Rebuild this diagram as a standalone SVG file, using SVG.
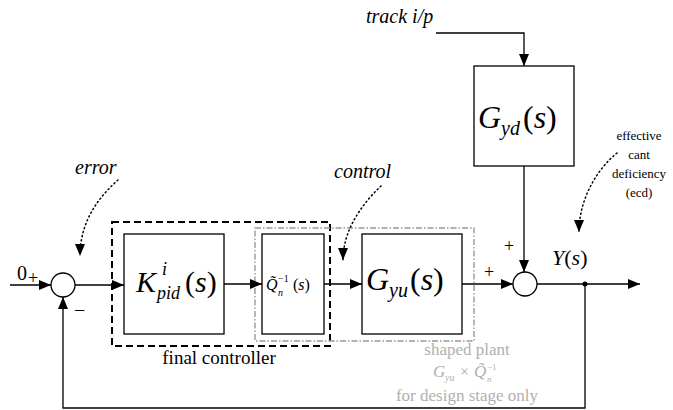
<svg xmlns="http://www.w3.org/2000/svg" width="673" height="410" viewBox="0 0 673 410" font-family="'Liberation Serif', 'DejaVu Serif', serif">
<defs>
<marker id="ah" markerWidth="12" markerHeight="10" refX="12" refY="5" orient="auto" markerUnits="userSpaceOnUse">
<path d="M0,0 L12,5 L0,10 Z" fill="#000"/>
</marker>
<style>
.it{font-style:italic}
.blk{fill:#fff;stroke:#000;stroke-width:1.3}
.wire{fill:none;stroke:#000;stroke-width:1.3}
.dot{fill:none;stroke:#000;stroke-width:1.5;stroke-dasharray:1.2,3;stroke-linecap:round}
.gray{fill:#b0b0b0}
</style>
</defs>
<rect width="673" height="410" fill="#fff"/>

<g id="final-controller-box">
<rect x="112" y="222" width="218" height="124" fill="none" stroke="#000" stroke-width="2" stroke-dasharray="7,4"/>
<text x="219" y="364" font-size="19" text-anchor="middle">final controller</text>
</g>
<g id="shaped-plant-box">
<rect x="255" y="228" width="219" height="113" fill="none" stroke="#999" stroke-width="1.4" stroke-dasharray="6,2,1.5,2"/>
<text class="gray" x="467" y="355" font-size="17" text-anchor="middle">shaped plant</text>
<text class="gray it" x="433" y="377" font-size="17">G</text>
<text class="gray it" x="445" y="381" font-size="10">yu</text>
<text class="gray" x="460" y="377" font-size="16">×</text>
<text class="gray it" x="474" y="377" font-size="17">Q̃</text>
<text class="gray" x="487" y="370" font-size="9">−1</text>
<text class="gray it" x="487" y="382" font-size="9">n</text>
<text class="gray" x="467" y="401" font-size="17" text-anchor="middle">for design stage only</text>
</g>

<g id="sum1">
<circle cx="63" cy="285" r="12" fill="#fff" stroke="#000" stroke-width="1.3"/>
<text x="17" y="280" font-size="20">0</text>
<text x="28" y="284" font-size="18">+</text>
<text x="74" y="317" font-size="20">−</text>
</g>

<g id="K">
<rect class="blk" x="124" y="234" width="100" height="100"/>
<text class="it" x="136" y="292" font-size="30">K</text>
<text class="it" x="162" y="275" font-size="18">i</text>
<text class="it" x="157" y="299" font-size="18">pid</text>
<text x="185" y="292" font-size="30">(<tspan font-style="italic">s</tspan>)</text>
</g>

<g id="Q">
<rect class="blk" x="262" y="234" width="62" height="100"/>
<text class="it" x="266" y="290" font-size="16">Q̃</text>
<text x="278" y="282" font-size="10">−1</text>
<text class="it" x="278" y="296" font-size="10">n</text>
<text x="293" y="290" font-size="16">(<tspan font-style="italic">s</tspan>)</text>
</g>

<g id="Gyu">
<rect class="blk" x="362" y="234" width="100" height="100"/>
<text class="it" x="366" y="290" font-size="32">G</text>
<text class="it" x="389" y="297" font-size="20">yu</text>
<text x="410" y="290" font-size="32">(<tspan font-style="italic">s</tspan>)</text>
</g>

<g id="Gyd">
<rect class="blk" x="474" y="66" width="100" height="100"/>
<text class="it" x="478" y="128" font-size="32">G</text>
<text class="it" x="501" y="135" font-size="20">yd</text>
<text x="523" y="128" font-size="32">(<tspan font-style="italic">s</tspan>)</text>
</g>

<g id="sum2">
<circle cx="525" cy="284" r="12" fill="#fff" stroke="#000" stroke-width="1.3"/>
<text x="484" y="278" font-size="18">+</text>
<text x="504" y="252" font-size="18">+</text>
</g>

<g id="labels">
<text class="it" x="366" y="23" font-size="20">track  i/p</text>
<text class="it" x="75" y="174" font-size="20">error</text>
<text class="it" x="334" y="178" font-size="20">control</text>
<text x="552" y="265" font-size="22"><tspan font-style="italic">Y</tspan>(<tspan font-style="italic">s</tspan>)</text>
<text x="639" y="140" font-size="13" text-anchor="middle">effective</text>
<text x="639" y="159" font-size="13" text-anchor="middle">cant</text>
<text x="639" y="178" font-size="13" text-anchor="middle">deficiency</text>
<text x="639" y="197" font-size="13" text-anchor="middle">(ecd)</text>
</g>

<g id="connectors">
<line class="wire" x1="10" y1="285" x2="51" y2="285" marker-end="url(#ah)"/>
<line class="wire" x1="75" y1="285" x2="124" y2="285" marker-end="url(#ah)"/>
<line class="wire" x1="224" y1="284" x2="262" y2="284" marker-end="url(#ah)"/>
<line class="wire" x1="324" y1="284" x2="362" y2="284" marker-end="url(#ah)"/>
<line class="wire" x1="462" y1="284" x2="513" y2="284" marker-end="url(#ah)"/>
<line class="wire" x1="537" y1="284" x2="640" y2="284" marker-end="url(#ah)"/>
<polyline class="wire" points="436,33 524,33 524,66" marker-end="url(#ah)"/>
<line class="wire" x1="524" y1="166" x2="524" y2="272" marker-end="url(#ah)"/>
<polyline class="wire" points="585,284 585,408 63,408 63,297" marker-end="url(#ah)"/>
<circle cx="585" cy="284" r="2.5" fill="#000"/>
<path class="dot" d="M118,180 C100,196 80,220 80,256" marker-end="url(#ah)"/>
<path class="dot" d="M381,186 C362,204 343,230 343,260" marker-end="url(#ah)"/>
<path class="dot" d="M617,153 C596,170 579,200 579,232" marker-end="url(#ah)"/>
</g>
</svg>
